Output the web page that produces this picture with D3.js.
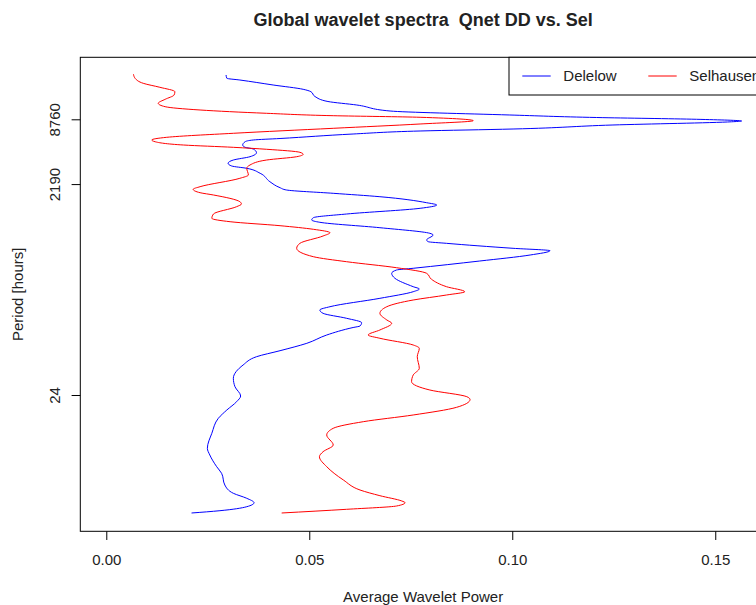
<!DOCTYPE html>
<html>
<head>
<meta charset="utf-8">
<script src="https://cdn.jsdelivr.net/npm/d3@7"></script>
<style>
  body { margin: 0; background: #fff; }
  text { font-family: "Liberation Sans", Arial, sans-serif; fill: #222; white-space: pre; }
</style>
</head>
<body>
<script>
// period given as octaves (log2 of hours), power
var delelowOctave = [14.465,14.363,14.31,14.156,14.023,13.949,13.801,13.646,13.538,13.353,
  13.23,13.152,13.097,13.044,13.02,12.921,12.797,12.736,12.643,12.504,
  12.458,12.405,12.303,12.232,12.18,12.066,11.942,11.84,11.738,11.655,
  11.584,11.43,11.17,10.985,10.914,10.812,10.707,10.522,10.451,10.349,
  10.173,10.059,9.988,9.917,9.75,9.577,9.525,9.37,9.318,9.268,
  9.114,9.04,8.907,8.722,8.497,8.444,8.342,8.188,7.929,7.858,
  7.774,7.57,7.311,7.209,7.107,6.953,6.817,6.715,6.669,6.437,
  6.181,5.953,5.767,5.511,5.101,4.841,4.554,4.378,4.122,3.866,
  3.403,2.939,2.733,2.371,2.168,1.806,1.55,1.396,1.26,1.136,1.013,0.942];
var delelowPower = [0.0295,0.0297,0.0329,0.0411,0.0485,0.0504,0.0514,0.0546,0.0617,0.0699,
  0.0994,0.1208,0.1454,0.1565,0.1540,0.1248,0.1002,0.0773,0.0608,0.0428,
  0.0362,0.0342,0.0336,0.0342,0.0362,0.0370,0.0354,0.0313,0.0300,0.0309,
  0.0346,0.0379,0.0403,0.0428,0.0444,0.0559,0.0674,0.0789,0.0814,0.0773,
  0.0592,0.0510,0.0506,0.0526,0.0674,0.0797,0.0805,0.0789,0.0793,0.0838,
  0.1002,0.1093,0.1044,0.0920,0.0756,0.0715,0.0703,0.0711,0.0756,0.0771,
  0.0756,0.0674,0.0551,0.0526,0.0534,0.0592,0.0629,0.0625,0.0608,0.0543,
  0.0494,0.0428,0.0370,0.0337,0.0313,0.0317,0.0331,0.0321,0.0297,0.0276,
  0.0260,0.0249,0.0255,0.0272,0.0284,0.0292,0.0313,0.0346,0.0364,0.0346,0.0280,0.0210];

var selhausenOctave = [14.486,14.363,14.208,14.085,13.949,13.847,13.714,13.591,13.486,13.384,
  13.282,13.208,13.159,13.054,12.952,12.819,12.665,12.541,12.458,12.405,
  12.303,12.232,12.171,12.078,12.016,11.942,11.84,11.686,11.584,11.377,
  11.275,11.016,10.936,10.831,10.76,10.553,10.482,10.399,10.173,10.04,
  9.935,9.812,9.701,9.596,9.494,9.268,9.114,8.855,8.7,8.515,
  8.342,8.157,7.929,7.774,7.672,7.518,7.311,7.107,6.901,6.799,
  6.592,6.437,6.336,6.129,6.027,5.767,5.409,5.202,4.996,4.739,
  4.533,4.446,4.205,3.968,3.761,3.557,3.35,3.041,2.834,2.68,
  2.371,1.961,1.652,1.476,1.312,1.26,1.158,1.056,0.942];
var selhausenPower = [0.0067,0.0071,0.0091,0.0132,0.0169,0.0167,0.0145,0.0128,0.0145,0.0231,
  0.0395,0.0559,0.0773,0.0904,0.0773,0.0559,0.0313,0.0149,0.0112,0.0120,
  0.0190,0.0313,0.0395,0.0477,0.0485,0.0469,0.0395,0.0354,0.0346,0.0350,
  0.0329,0.0231,0.0214,0.0231,0.0264,0.0329,0.0333,0.0321,0.0264,0.0260,
  0.0305,0.0428,0.0510,0.0551,0.0534,0.0477,0.0469,0.0510,0.0592,0.0715,
  0.0789,0.0801,0.0838,0.0883,0.0838,0.0756,0.0691,0.0674,0.0691,0.0703,
  0.0674,0.0645,0.0674,0.0756,0.0771,0.0766,0.0771,0.0756,0.0752,0.0797,
  0.0888,0.0896,0.0863,0.0756,0.0633,0.0559,0.0543,0.0559,0.0534,0.0525,
  0.0543,0.0584,0.0625,0.0674,0.0728,0.0736,0.0715,0.0592,0.0432];

var seriesNames = ["Delelow", "Selhausen"];
var seriesColors = ["#0000ff", "#ff0000"];
var xTicks = [0, 0.05, 0.10, 0.15];
var yTicks = [24, 2190, 8760];

var width = 756, height = 605;
var plot = {left: 80.3, right: 766, top: 57.3, bottom: 531.3};

var svg = d3.select("body").append("svg")
    .attr("width", width)
    .attr("height", height);

// x range padded like R does (usr from -0.0064 to 0.1625)
var x = d3.scaleLinear().domain([-0.0064, 0.1625]).range([plot.left, plot.right]);
// log period axis
var y = d3.scaleLog().base(2).domain([Math.pow(2, 0.377), Math.pow(2, 15.011)]).range([plot.bottom, plot.top]);

function toPoints(oct, pow){
  return oct.map(function(o, i){ return {period: Math.pow(2, o), power: pow[i]}; });
}
var series = [toPoints(delelowOctave, delelowPower), toPoints(selhausenOctave, selhausenPower)];

var line = d3.line()
    .x(function(d){ return x(d.power); })
    .y(function(d){ return y(d.period); })
    .curve(d3.curveMonotoneY);

svg.append("clipPath").attr("id", "clip")
  .append("rect")
    .attr("x", plot.left).attr("y", plot.top)
    .attr("width", plot.right - plot.left).attr("height", plot.bottom - plot.top);

svg.append("g").attr("clip-path", "url(#clip)")
  .selectAll("path")
  .data(series)
  .enter().append("path")
    .attr("d", line)
    .attr("fill", "none")
    .attr("stroke", function(d, i){ return seriesColors[i]; })
    .attr("stroke-width", 1);

// x axis
var xAxis = svg.append("g")
    .attr("transform", "translate(0," + plot.bottom + ")")
    .call(d3.axisBottom(x).tickValues(xTicks).tickFormat(d3.format(".2f")).tickSize(8.7));
xAxis.select(".domain").remove();
xAxis.selectAll("line").attr("stroke", "#000");
xAxis.selectAll("text")
    .attr("y", 33.7).attr("dy", null)
    .style("font-size", "15px").style("font-family", "Liberation Sans, Arial, sans-serif")
    .attr("fill", "#222");

// y axis, labels rotated like R
var yAxis = svg.append("g")
    .attr("transform", "translate(" + plot.left + ",0)")
    .call(d3.axisLeft(y).tickValues(yTicks).tickFormat(d3.format("d")).tickSize(8.7));
yAxis.select(".domain").remove();
yAxis.selectAll("line").attr("stroke", "#000");
yAxis.selectAll("text")
    .attr("x", null).attr("y", null).attr("dy", null)
    .attr("transform", "translate(-20.3,0) rotate(-90)")
    .attr("text-anchor", "middle")
    .style("font-size", "15px").style("font-family", "Liberation Sans, Arial, sans-serif")
    .attr("fill", "#222");

// box
svg.append("rect")
    .attr("x", plot.left).attr("y", plot.top)
    .attr("width", plot.right - plot.left).attr("height", plot.bottom - plot.top)
    .attr("fill", "none").attr("stroke", "#000").attr("stroke-width", 1);

// title and labels
svg.append("text")
    .attr("x", (plot.left + plot.right) / 2).attr("y", 26)
    .attr("text-anchor", "middle")
    .attr("xml:space", "preserve")
    .style("font-size", "18px").style("font-weight", "bold")
    .attr("fill", "#000")
    .text("Global wavelet spectra  Qnet DD vs. Sel");

svg.append("text")
    .attr("x", (plot.left + plot.right) / 2).attr("y", 602)
    .attr("text-anchor", "middle")
    .style("font-size", "15px")
    .text("Average Wavelet Power");

svg.append("text")
    .attr("transform", "translate(23," + (plot.top + plot.bottom) / 2 + ") rotate(-90)")
    .attr("text-anchor", "middle")
    .style("font-size", "15px")
    .text("Period [hours]");

// legend
var legend = svg.append("g");
legend.append("rect")
    .attr("x", 509).attr("y", plot.top)
    .attr("width", plot.right - 509).attr("height", 37.7)
    .attr("fill", "#fff").attr("stroke", "#000").attr("stroke-width", 1);

var items = legend.selectAll("g.item")
    .data(seriesNames)
  .enter().append("g")
    .attr("class", "item")
    .attr("transform", function(d, i){ return "translate(" + (522.3 + i * 126) + ",76)"; });
items.append("line")
    .attr("x1", 0).attr("x2", 28.4)
    .attr("stroke", function(d, i){ return seriesColors[i]; })
    .attr("stroke-width", 1);
items.append("text")
    .attr("x", 41).attr("dy", "0.35em")
    .style("font-size", "15px")
    .text(function(d){ return d; });
</script>
</body>
</html>
